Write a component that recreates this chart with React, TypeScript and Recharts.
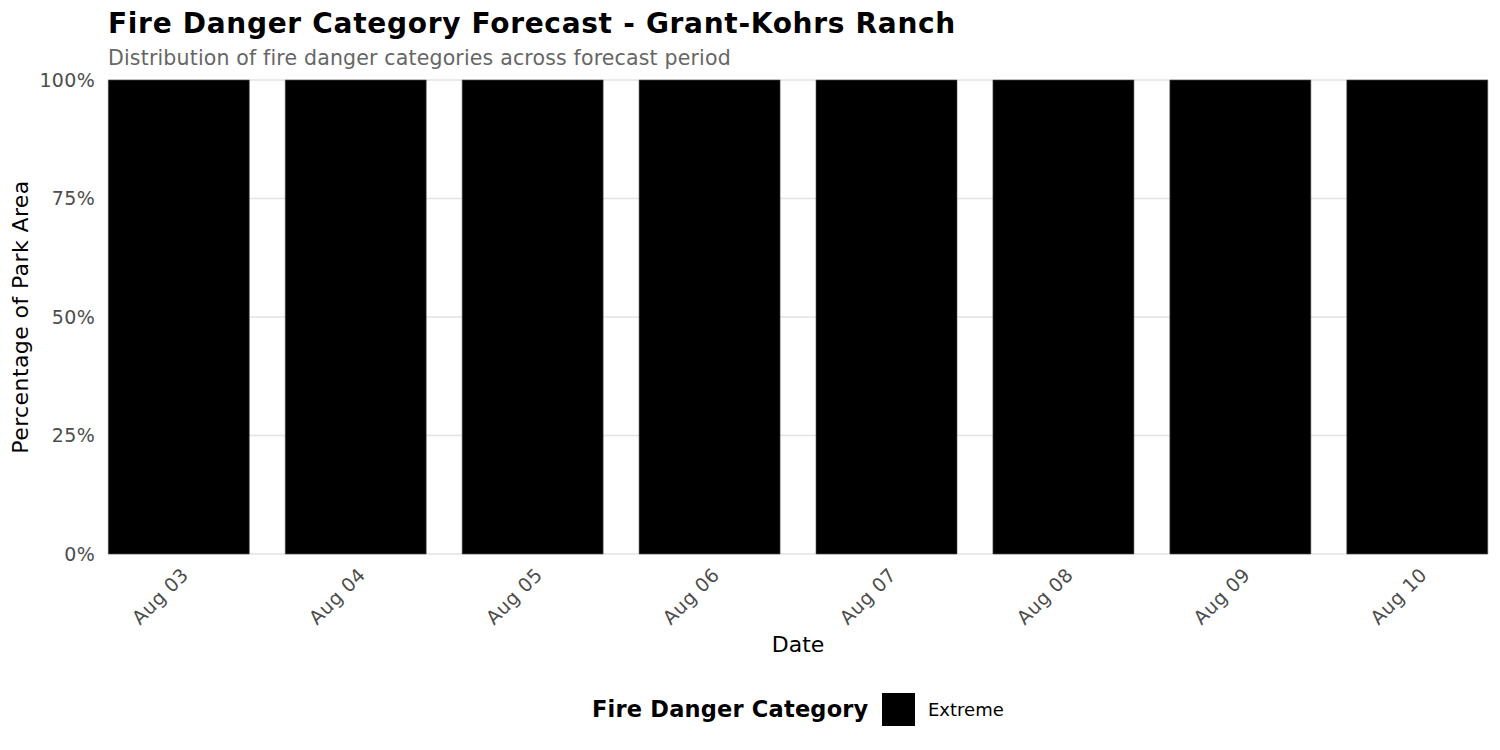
import React from "react";
import { BarChart, Bar, XAxis, YAxis, CartesianGrid } from "recharts";

const dates = ["Aug 03", "Aug 04", "Aug 05", "Aug 06", "Aug 07", "Aug 08", "Aug 09", "Aug 10"];
const extremeShare = [1, 1, 1, 1, 1, 1, 1, 1];
const yTicks = [0, 0.25, 0.5, 0.75, 1];
const xTicks = dates.map((_, i) => i);

const data = dates.map((date, i) => ({ idx: i, date, Extreme: extremeShare[i] }));

const FONT = "'DejaVu Sans', sans-serif";

function DateTick(props: any) {
  const { x, y, payload } = props;
  return (
    <g transform={`translate(${x},${y})`}>
      <text
        x={0}
        y={0}
        textAnchor="end"
        transform="translate(11,14) rotate(-45)"
        fill="#4d4d4d"
        fontSize={19}
        letterSpacing={0.5}
        fontFamily={FONT}
      >
        {dates[payload.value]}
      </text>
    </g>
  );
}

export default function App() {
  return (
    <div style={{ position: "absolute", left: 0, top: 0, width: 1500, height: 750, background: "#fff", fontFamily: FONT }}>
      <div style={{ position: "absolute", left: 108, top: 7, fontSize: 28, letterSpacing: 0.7, fontWeight: "bold", color: "#000", whiteSpace: "nowrap" }}>
        Fire Danger Category Forecast - Grant-Kohrs Ranch
      </div>
      <div style={{ position: "absolute", left: 108, top: 46, fontSize: 20.5, letterSpacing: 0.17, color: "#666", whiteSpace: "nowrap" }}>
        Distribution of fire danger categories across forecast period
      </div>
      <BarChart width={1500} height={750} data={data} margin={{ top: 80, right: 12, left: 48, bottom: 116 }}>
        <CartesianGrid vertical={false} stroke="#e3e3e3" strokeWidth={1.3} />
        <XAxis
          dataKey="idx"
          type="number"
          domain={[-0.4, 7.4]}
          ticks={xTicks}
          height={80}
          axisLine={false}
          tickLine={false}
          tick={<DateTick />}
          interval={0}
        />
        <YAxis
          type="number"
          domain={[0, 1]}
          ticks={yTicks}
          width={60}
          axisLine={false}
          tickLine={false}
          tickSize={6}
          tickMargin={7}
          tickFormatter={(v: number) => `${Math.round(v * 100)}%`}
          tick={{ fill: "#4d4d4d", fontSize: 19, fontFamily: FONT, letterSpacing: 0.3 }}
        />
        <Bar dataKey="Extreme" fill="#000" stroke="#555" strokeWidth={0.6} barSize={141} isAnimationActive={false} />
      </BarChart>
      <div style={{ position: "absolute", left: 798, top: 632, transform: "translateX(-50%)", fontSize: 22, color: "#000" }}>
        Date
      </div>
      <div
        style={{
          position: "absolute",
          left: 20,
          top: 317,
          transform: "translate(-50%, -50%) rotate(-90deg)",
          fontSize: 22,
          letterSpacing: 0.4,
          color: "#000",
          whiteSpace: "nowrap",
        }}
      >
        Percentage of Park Area
      </div>
      <div style={{ position: "absolute", left: 592, top: 696, fontSize: 22.5, letterSpacing: 0.2, fontWeight: "bold", color: "#000", whiteSpace: "nowrap" }}>
        Fire Danger Category
      </div>
      <div style={{ position: "absolute", left: 882, top: 693, width: 33, height: 33, background: "#000" }} />
      <div style={{ position: "absolute", left: 928, top: 699, fontSize: 18, color: "#000", whiteSpace: "nowrap" }}>
        Extreme
      </div>
    </div>
  );
}
